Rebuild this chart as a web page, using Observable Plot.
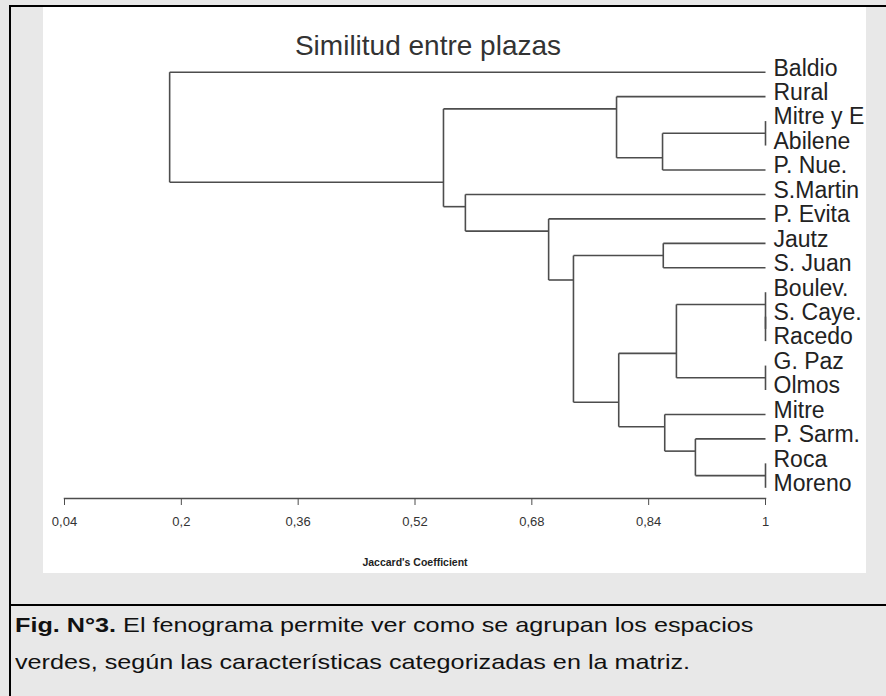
<!DOCTYPE html>
<html>
<head>
<meta charset="utf-8">
<script src="https://cdn.jsdelivr.net/npm/d3@7"></script>
<script src="https://cdn.jsdelivr.net/npm/@observablehq/plot@0.6"></script>
<style>
html, body { margin: 0; padding: 0; width: 886px; height: 696px; overflow: hidden; background: #e8e8e8; font-family: "Liberation Sans", Arial, sans-serif; }
#border { position: absolute; left: 9px; top: 5px; width: 877px; height: 691px; border-left: 2px solid #000; border-top: 2px solid #000; box-sizing: border-box; }
#panel { position: absolute; left: 43px; top: 7px; width: 823px; height: 566px; background: #fff; overflow: hidden; }
#sep { position: absolute; left: 9px; top: 604px; width: 877px; height: 2px; background: #000; }
#caption { position: absolute; left: 15px; top: 606px; font-size: 21px; line-height: 37px; color: #111; white-space: nowrap; transform: scaleX(1.2); transform-origin: left top; }
</style>
</head>
<body>
<div id="border"></div>
<div id="panel"></div>
<div id="sep"></div>
<div id="caption"><b>Fig. N°3.</b> El fenograma permite ver como se agrupan los espacios<br>verdes, según las características categorizadas en la matriz.</div>
<script>
// Leaves, top to bottom
const leaves = ["Baldio", "Rural", "Mitre y E", "Abilene", "P. Nue.", "S.Martin", "P. Evita", "Jautz", "S. Juan", "Boulev.", "S. Caye.", "Racedo", "G. Paz", "Olmos", "Mitre", "P. Sarm.", "Roca", "Moreno"];

// Clustering merges (upper child, lower child, Jaccard similarity)
const nodeIds    = ["n1", "n2", "n3", "n4", "n5", "n6", "n7", "n8", "n9", "n10", "n11", "n12", "n13", "n14", "n15", "n16", "n17"];
const leftChild  = ["Mitre y E", "n1", "Rural", "S. Caye.", "Boulev.", "G. Paz", "n5", "Roca", "P. Sarm.", "Mitre", "n7", "Jautz", "n12", "P. Evita", "S.Martin", "n3", "Baldio"];
const rightChild = ["Abilene", "P. Nue.", "n2", "Racedo", "n4", "Olmos", "n6", "Moreno", "n8", "n9", "n10", "S. Juan", "n11", "n13", "n14", "n15", "n16"];
const similarity = [1, 0.859, 0.796, 1, 1, 1, 0.878, 1, 0.904, 0.862, 0.799, 0.860, 0.737, 0.703, 0.589, 0.559, 0.184];

const tickValues = [0.04, 0.2, 0.36, 0.52, 0.68, 0.84, 1];
const tickLabels = ["0,04", "0,2", "0,36", "0,52", "0,68", "0,84", "1"];
const chartTitle = "Similitud entre plazas";
const axisTitle = "Jaccard's Coefficient";

// Build dendrogram segments
const info = new Map();
leaves.forEach((name, i) => info.set(name, {x: 1, first: i, last: i, attach: i}));
const segments = [];
nodeIds.forEach((id, k) => {
  const L = info.get(leftChild[k]), R = info.get(rightChild[k]), s = similarity[k];
  segments.push({x1: s, y1: L.attach, x2: s, y2: R.attach});
  segments.push({x1: s, y1: L.attach, x2: L.x, y2: L.attach});
  segments.push({x1: s, y1: R.attach, x2: R.x, y2: R.attach});
  info.set(id, {x: s, first: L.first, last: R.last, attach: (L.last + R.first) / 2});
});

const lineColor = "#4d4d4d";

const chart = Plot.plot({
  width: 823,
  height: 566,
  marginLeft: 21,
  marginRight: 101,
  marginTop: 0,
  marginBottom: 75,
  style: {background: "transparent", fontFamily: "'Liberation Sans', Arial, sans-serif", overflow: "visible"},
  x: {domain: [0.04, 1]},
  y: {domain: [0, 17], range: [64.7, 480.3], axis: null},
  marks: [
    Plot.link(segments, {x1: "x1", y1: "y1", x2: "x2", y2: "y2", stroke: lineColor, strokeWidth: 1.6}),
    Plot.text(leaves, {x: () => 1, y: (d, i) => i, text: d => d, textAnchor: "start", dx: 8, dy: -4, fontSize: 23, fill: "#222"}),
    Plot.frame({anchor: "bottom", stroke: lineColor, strokeWidth: 1.5}),
    Plot.axisX(tickValues, {tickFormat: d => tickLabels[tickValues.indexOf(d)], tickSize: 7, tickPadding: 11, fontSize: 13, stroke: lineColor, fill: "#333", label: null}),
    Plot.text([axisTitle], {frameAnchor: "bottom", dy: 67, fontSize: 10.5, fontWeight: "bold", fill: "#222"}),
    Plot.text([chartTitle], {frameAnchor: "top", dx: 13, dy: 28, fontSize: 28, fill: "#333"})
  ]
});
document.getElementById("panel").appendChild(chart);
</script>
</body>
</html>
